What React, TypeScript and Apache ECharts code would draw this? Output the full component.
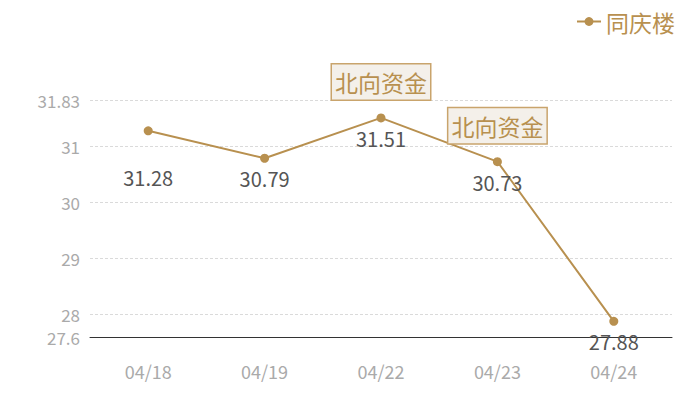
import React, { useEffect, useRef } from "react";
import * as echarts from "echarts";

const categories = ["04/18", "04/19", "04/22", "04/23", "04/24"];
const values = [31.28, 30.79, 31.51, 30.73, 27.88];
const seriesName = "同庆楼";
const markLabel = "北向资金";
const markIndices = [2, 3];
const yMin = 27.6;
const yMax = 31.83;

const GOLD = "#b8904f";
const FONT = "'Noto Sans CJK SC', 'Noto Sans', sans-serif";

export default function App() {
  const ref = useRef<HTMLDivElement>(null);
  useEffect(() => {
    document.body.style.margin = "0";
    if (!ref.current) return;
    const chart = echarts.init(ref.current, null, { renderer: "svg" });
    chart.setOption({
      animation: false,
      textStyle: { fontFamily: FONT },
      legend: {
        data: [seriesName],
        right: 20,
        top: 5,
        itemWidth: 24,
        itemHeight: 11,
        itemGap: 7,
        textStyle: { color: GOLD, fontSize: 23, fontFamily: FONT },
      },
      grid: { left: 90, right: 28, top: 100, bottom: 63, containLabel: false },
      xAxis: {
        type: "category",
        data: categories,
        boundaryGap: true,
        axisLine: { lineStyle: { color: "#333", width: 1 } },
        axisTick: { show: false },
        axisLabel: { color: "#aaa", fontSize: 18, margin: 25, fontFamily: FONT },
      },
      yAxis: {
        type: "value",
        min: yMin,
        max: yMax,
        axisLine: { show: false },
        axisTick: { show: false },
        axisLabel: {
          color: "#aaa",
          fontSize: 17,
          lineHeight: 14,
          margin: 10,
          fontFamily: FONT,
        },
        splitLine: { lineStyle: { color: "#dadada", type: [3, 2] } },
      },
      series: [
        {
          name: seriesName,
          type: "line",
          data: values.map((v, i) =>
            i === 0 ? { value: v, label: { distance: 32 } } : v
          ),
          symbol: "circle",
          symbolSize: 9,
          itemStyle: { color: GOLD },
          lineStyle: { color: GOLD, width: 2 },
          label: {
            show: true,
            position: "bottom",
            distance: 6,
            color: "#555",
            fontSize: 20,
            fontFamily: FONT,
          },
          markPoint: {
            symbol: "circle",
            symbolSize: 1,
            itemStyle: { color: "rgba(0,0,0,0)" },
            label: {
              show: true,
              position: "top",
              distance: 18,
              formatter: markLabel,
              color: GOLD,
              fontSize: 23,
              lineHeight: 25,
              fontFamily: FONT,
              backgroundColor: "#f4f0ea",
              borderColor: "#c9a46c",
              borderWidth: 1.5,
              padding: [5, 3, 5, 3],
            },
            data: markIndices.map((i) => ({
              coord: [categories[i], values[i]],
              value: markLabel,
            })),
          },
        },
      ],
    });
    return () => chart.dispose();
  }, []);
  return <div ref={ref} style={{ width: 700, height: 400 }} />;
}
